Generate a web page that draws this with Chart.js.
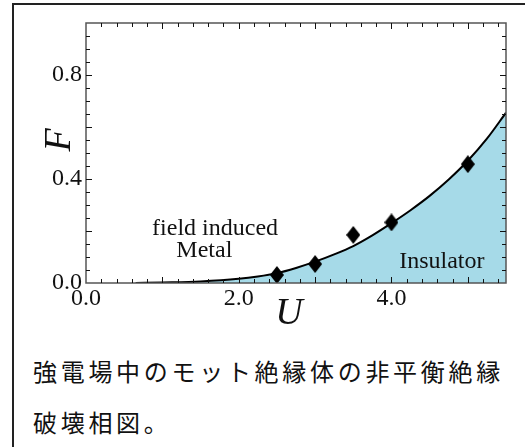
<!DOCTYPE html>
<html><head><meta charset="utf-8">
<script src="https://cdn.jsdelivr.net/npm/chart.js@4"></script>
<style>
html,body{margin:0;padding:0;background:#fff;width:525px;height:447px;overflow:hidden;position:relative;}
#frame{position:absolute;left:12px;top:3px;width:600px;height:600px;border-left:2px solid #222;border-top:2px solid #222;}
#wrap{position:absolute;left:0;top:0;width:525px;height:340px;}
#cap{position:absolute;left:33px;top:345px;font-family:"Noto Sans CJK JP";font-size:24px;line-height:51px;letter-spacing:3.7px;color:#111;white-space:nowrap;}
</style></head>
<body>
<div id="frame"></div>
<div id="wrap"><canvas id="c" width="525" height="340"></canvas></div>
<div id="cap">強電場中のモット絶縁体の非平衡絶縁<br>破壊相図。</div>
<script>
// Phase boundary curve F(U)
const curveU = [0.65, 1.0, 1.5, 2.0, 2.25, 2.5, 2.75, 3.0, 3.25, 3.5, 3.75, 4.0, 4.25, 4.5, 4.75, 5.0, 5.25, 5.5];
const curveF = [0.000, 0.002, 0.006, 0.016, 0.025, 0.038, 0.058, 0.082, 0.110, 0.142, 0.183, 0.230, 0.280, 0.335, 0.398, 0.470, 0.555, 0.655];
// Numerical data points (diamonds)
const pointU = [2.5, 3.0, 3.5, 4.0, 5.0];
const pointF = [0.031, 0.073, 0.185, 0.233, 0.457];
// Tick labels
const xTickValues = [0, 2, 4];
const xTickLabels = ['0.0', '2.0', '4.0'];
const yTickValues = [0, 0.4, 0.8];
const yTickLabels = ['0.0', '0.4', '0.8'];
// Region labels
const regionTexts = ['field induced', 'Metal', 'Insulator'];
const regionU = [1.69, 1.55, 4.66];
const regionF = [0.208, 0.123, 0.081];
const xTitle = 'U';
const yTitle = 'F';

const serif = '"Liberation Serif", "DejaVu Serif", serif';

// elongated diamond marker
const diamond = document.createElement('canvas');
diamond.width = 14; diamond.height = 18;
(function () {
  const g = diamond.getContext('2d');
  g.fillStyle = '#000';
  g.beginPath();
  g.moveTo(7, 0); g.lineTo(14, 9); g.lineTo(7, 18); g.lineTo(0, 9);
  g.closePath(); g.fill();
})();

const framePlugin = {
  id: 'framePlugin',
  afterDatasetsDraw(chart) {
    const {ctx, chartArea: a, scales: {x, y}} = chart;
    ctx.save();
    ctx.strokeStyle = '#555';
    ctx.lineWidth = 1.5;
    ctx.strokeRect(a.left, a.top, a.right - a.left, a.bottom - a.top);
    ctx.strokeStyle = '#111';
    ctx.lineWidth = 1;
    ctx.beginPath();
    for (let i = 1; i * 0.2 < x.max; i++) {
      const px = Math.round(x.getPixelForValue(i * 0.2)) + 0.5;
      const len = (i % 5 === 0) ? 6 : 4;
      ctx.moveTo(px, a.bottom); ctx.lineTo(px, a.bottom - len);
      ctx.moveTo(px, a.top); ctx.lineTo(px, a.top + len);
    }
    for (let i = 1; i * 0.05 < y.max - 1e-9; i++) {
      const py = Math.round(y.getPixelForValue(i * 0.05)) + 0.5;
      const len = (i % 4 === 0) ? 6 : 4;
      ctx.moveTo(a.left, py); ctx.lineTo(a.left + len, py);
      ctx.moveTo(a.right, py); ctx.lineTo(a.right - len, py);
    }
    ctx.stroke();
    // region labels
    ctx.fillStyle = '#111';
    ctx.font = '24px ' + serif;
    ctx.textAlign = 'center';
    ctx.textBaseline = 'middle';
    regionTexts.forEach((t, i) => {
      ctx.fillText(t, x.getPixelForValue(regionU[i]), y.getPixelForValue(regionF[i]));
    });
    // axis titles
    ctx.font = 'italic 38px ' + serif;
    ctx.fillText(xTitle, a.left + (a.right - a.left) * 0.483, a.bottom + 31);
    ctx.save();
    ctx.translate(a.left - 26, a.top + 117);
    ctx.rotate(-Math.PI / 2);
    ctx.fillText(yTitle, 0, 0);
    ctx.restore();
    ctx.restore();
  }
};

new Chart(document.getElementById('c'), {
  type: 'scatter',
  data: {
    datasets: [
      {
        label: 'data',
        data: pointU.map((u, i) => ({x: u, y: pointF[i]})),
        pointStyle: diamond,
        pointRadius: 8,
        pointHoverRadius: 8,
        backgroundColor: '#000',
        borderColor: '#000',
        borderWidth: 0,
        showLine: false
      },
      {
        label: 'boundary',
        data: curveU.map((u, i) => ({x: u, y: curveF[i]})),
        showLine: true,
        fill: 'origin',
        backgroundColor: 'rgb(166,218,232)',
        borderColor: '#000',
        borderWidth: 2,
        pointRadius: 0,
        cubicInterpolationMode: 'monotone'
      }
    ]
  },
  options: {
    responsive: false,
    animation: false,
    events: [],
    layout: {padding: {left: 14, right: 19, top: 23, bottom: 4}},
    plugins: {legend: {display: false}, tooltip: {enabled: false}},
    scales: {
      x: {
        type: 'linear', min: 0, max: 5.5,
        afterBuildTicks: s => { s.ticks = xTickValues.map(v => ({value: v})); },
        afterFit: s => { s.height = 53; },
        ticks: {
          callback: (v, i) => xTickLabels[i],
          font: {family: serif, size: 24}, color: '#111', padding: 1,
          maxRotation: 0, autoSkip: false
        },
        grid: {display: false, drawTicks: false},
        border: {display: false}
      },
      y: {
        type: 'linear', min: 0, max: 1.0,
        afterBuildTicks: s => { s.ticks = yTickValues.map(v => ({value: v})); },
        afterFit: s => { s.width = 72; },
        ticks: {
          callback: (v, i) => yTickLabels[i],
          font: {family: serif, size: 24}, color: '#111', padding: 4,
          autoSkip: false
        },
        grid: {display: false, drawTicks: false},
        border: {display: false}
      }
    }
  },
  plugins: [framePlugin]
});
</script>
</body></html>
